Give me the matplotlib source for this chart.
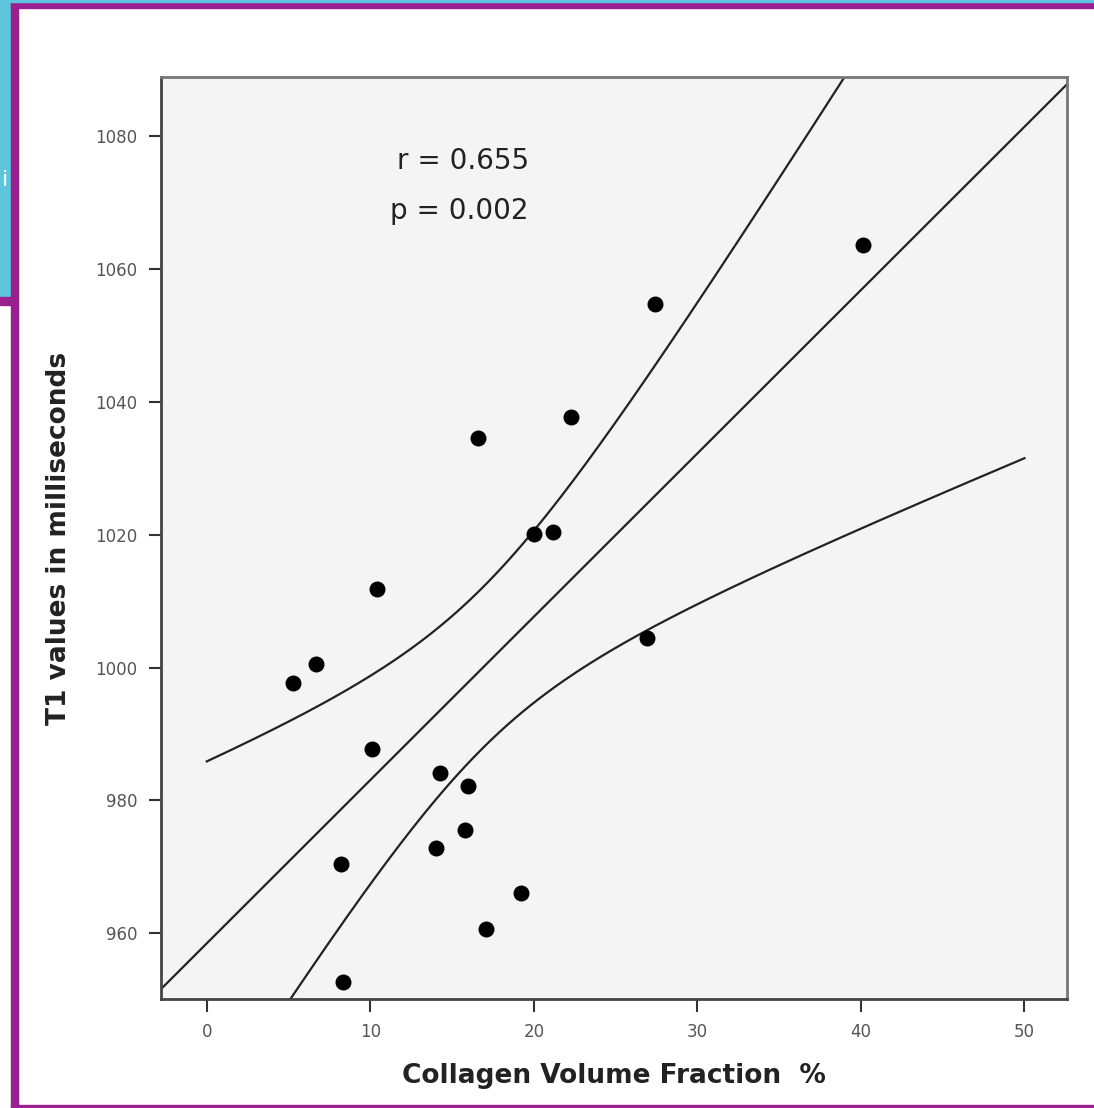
import numpy as np
import matplotlib.pyplot as plt
from matplotlib.patches import Rectangle

# collagen volume fraction (%) vs T1 (ms)
cvf = [5.3, 6.7, 10.4, 10.1, 8.2, 8.3, 14.25, 14.0, 15.8, 16.0,
       16.6, 17.1, 19.2, 20.0, 21.2, 22.3, 27.4, 26.9, 40.1]
t1 = [997.6, 1000.5, 1011.8, 987.8, 970.4, 952.7, 984.1, 972.8, 975.5, 982.1,
      1034.5, 960.7, 966.0, 1020.1, 1020.4, 1037.7, 1054.7, 1004.5, 1063.6]

x_ticks = [0, 10, 20, 30, 40, 50]
y_ticks = [960, 980, 1000, 1020, 1040, 1060, 1080]
stats_text = ["r = 0.655", "p = 0.002"]

x = np.array(cvf)
y = np.array(t1)
n = len(x)

# linear fit + 95% CI of the mean
m, b = np.polyfit(x, y, 1)
resid = y - (m * x + b)
s = np.sqrt(np.sum(resid ** 2) / (n - 2))
sxx = np.sum((x - x.mean()) ** 2)
t_crit = 2.110  # t(0.975, 17)

xb = np.linspace(0, 50, 200)
yb = m * xb + b
hw = t_crit * s * np.sqrt(1 / n + (xb - x.mean()) ** 2 / sxx)

fig = plt.figure(figsize=(10.94, 11.08), dpi=100)
W, H = 1094, 1108
ax = fig.add_axes([161 / W, 1 - 999 / H, (1067 - 161) / W, (999 - 77) / H])
ax.set_facecolor("#f4f4f4")

xl = (-2.8, 52.6)
ax.plot(xl, [m * v + b for v in xl], color="#222222", lw=1.6)
ax.plot(xb, yb + hw, color="#222222", lw=1.6)
ax.plot(xb, yb - hw, color="#222222", lw=1.6)
ax.scatter(x, y, s=110, color="black", zorder=3)

ax.set_xlim(*xl)
ax.set_ylim(950.1, 1088.9)
ax.set_xticks(x_ticks)
ax.set_yticks(y_ticks)
ax.tick_params(direction="out", length=9, width=1.5, color="#333333",
               labelsize=12, labelcolor="#555555", pad=8)
for sp in ax.spines.values():
    sp.set_linewidth(2)
    sp.set_color("#444444")
ax.spines["top"].set_color("#777777")
ax.spines["right"].set_color("#777777")

lab_font = dict(family="DejaVu Sans", fontweight="bold", fontsize=19,
                color="#222222")
ax.set_xlabel("Collagen Volume Fraction  %", labelpad=16, **lab_font)
ax.set_ylabel("T1 values in milliseconds", labelpad=17, **lab_font)

ax.text(19.7, 1076.3, stats_text[0], ha="right", va="center",
        fontsize=20, color="#222222")
ax.text(19.7, 1068.8, stats_text[1], ha="right", va="center",
        fontsize=20, color="#222222")

# screenshot frame
purple = "#9a1f8f"
fig.patches.append(Rectangle((0, 1 - 300 / H), 11 / W, 300 / H,
                             transform=fig.transFigure, color="#5ec6dc", zorder=0))
fig.patches.append(Rectangle((11 / W, 0), 7 / W, 1 - 2 / H,
                             transform=fig.transFigure, color=purple))
fig.patches.append(Rectangle((11 / W, 1 - 8 / H), 1 - 11 / W, 6 / H,
                             transform=fig.transFigure, color=purple))
fig.patches.append(Rectangle((11 / W, 0), 1 - 11 / W, 3 / H,
                             transform=fig.transFigure, color=purple))
fig.patches.append(Rectangle((0, 1 - 305 / H), 11 / W, 8 / H,
                             transform=fig.transFigure, color=purple))
fig.patches.append(Rectangle((0, 1 - 2 / H), 1, 2 / H,
                             transform=fig.transFigure, color="#5ec6dc"))
fig.text(2 / W, 1 - 180 / H, "i", color="white", fontsize=16, va="center")

fig.savefig("out.png", dpi=100)
